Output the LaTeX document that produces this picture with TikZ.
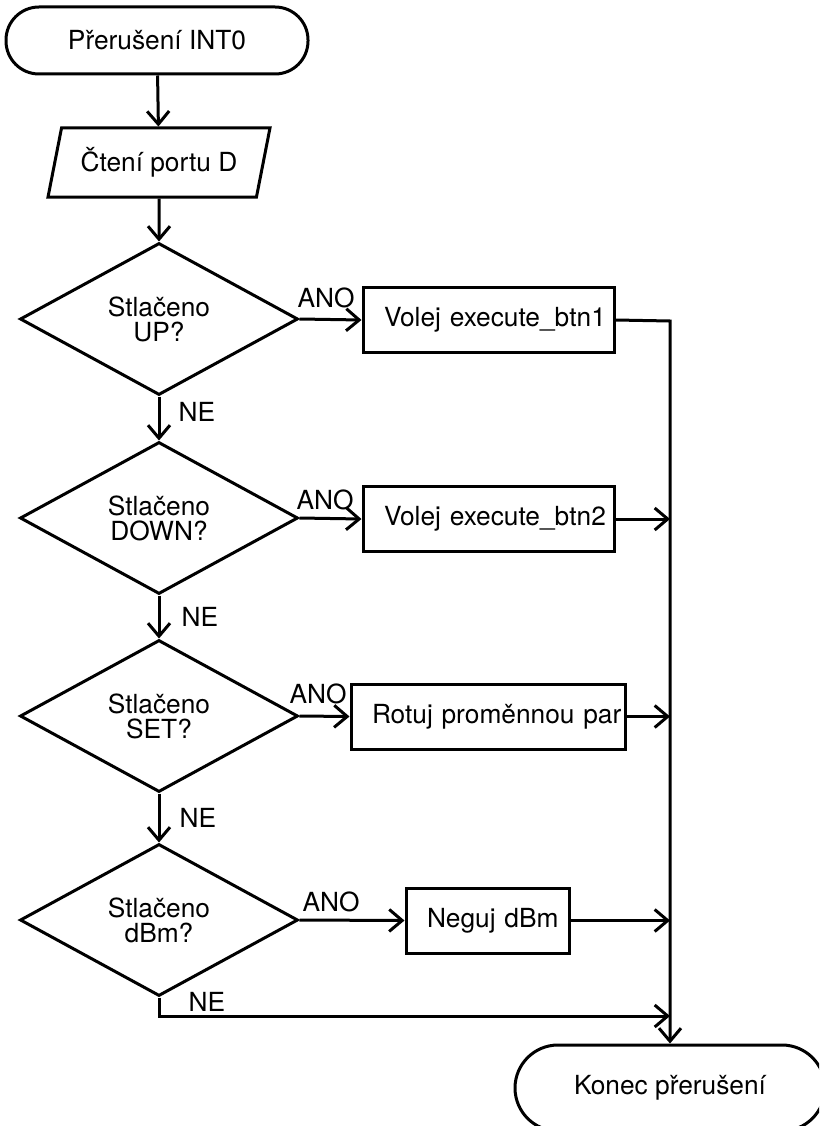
\documentclass[tikz,border=0pt]{standalone}
\usepackage{fontspec}
\setmainfont{TeX Gyre Heros}
\usetikzlibrary{shapes.geometric,arrows.meta}
\begin{document}
\begin{tikzpicture}[x=1pt,y=-1pt,
  line width=3pt,
  font=\fontsize{26.3}{25}\selectfont,
  term/.style={draw, rectangle, rounded corners=33pt, minimum width=302pt,
    minimum height=67pt, inner sep=0pt},
  io/.style={draw, trapezium, trapezium left angle=70, trapezium right angle=110,
    trapezium stretches=true, minimum width=222pt, minimum height=69pt, inner sep=0pt},
  decision/.style={draw, diamond, aspect=1.83, minimum width=278pt,
    minimum height=152pt, inner sep=0pt, align=center},
  % action box: text starts 21pt from the left border, long text may run to the edge
  proc/.style={draw, rectangle, minimum height=65pt, minimum width=#1, inner sep=0pt,
    text width=#1-42pt, execute at begin node=\hbox\bgroup,
    execute at end node=\egroup},
  lbl/.style={inner sep=0pt},
  arr/.style={-{Straight Barb[length=13pt,width=22pt]}}]

\useasboundingbox (0,0) rectangle (819,1126);
\clip (0,0) rectangle (819,1126);

% main column
\node[term] (start) at (157,40.5) {Přerušení INT0};
\node[io] (read) at (159,162.5) {Čtení portu D};
\node[decision] (d1) at (159,319) {Stlačeno\\UP?};
\node[decision] (d2) at (159,518) {Stlačeno\\DOWN?};
\node[decision] (d3) at (159,716) {Stlačeno\\SET?};
\node[decision] (d4) at (159,920) {Stlačeno\\dBm?};

% actions
\node[proc=251pt] (b1) at (488.5,320) {Volej execute\_btn1};
\node[proc=251pt] (b2) at (488.5,519) {Volej execute\_btn2};
\node[proc=274pt] (b3) at (488,716.5) {Rotuj proměnnou par};
\node[proc=163pt] (b4) at (487.5,920.5) {Neguj dBm};

% end of the routine
\node[term, rounded corners=43pt, minimum width=310pt, minimum height=86pt]
  (stop) at (670,1088) {Konec přerušení};

% collecting line on the right
\coordinate (j1) at (670,321);
\coordinate (j2) at (670,519);
\coordinate (j3) at (670,716.5);
\coordinate (j4) at (670,920.5);
\coordinate (j5) at (670,1016);

% branch labels
\node[lbl] (ano1) at (326,298) {ANO};
\node[lbl] (ano2) at (325,500) {ANO};
\node[lbl] (ano3) at (318,694) {ANO};
\node[lbl] (ano4) at (331,902) {ANO};
\node[lbl] (ne1) at (197,412) {NE};
\node[lbl] (ne2) at (200,617) {NE};
\node[lbl] (ne3) at (198,818) {NE};
\node[lbl] (ne4) at (207,1002) {NE};

% flow
\draw[arr] (start) -- (read);
\draw[arr] (read) -- (d1);
\draw[arr] (d1.south) -- (d2.north);
\draw[arr] (d2.south) -- (d3.north);
\draw[arr] (d3.south) -- (d4.north);

\draw[arr] (d1.east) -- (b1.west);
\draw[arr] (d2.east) -- (b2.west);
\draw[arr] (d3.east) -- (b3.west);
\draw[arr] (d4.east) -- (b4.west);

\draw[arr] (b1.east) -- (j1) -- (stop.north);
\draw[arr] (b2.east) -- (j2);
\draw[arr] (b3.east) -- (j3);
\draw[arr] (b4.east) -- (j4);
\draw[arr] (d4.south) |- (j5);
\end{tikzpicture}
\end{document}
